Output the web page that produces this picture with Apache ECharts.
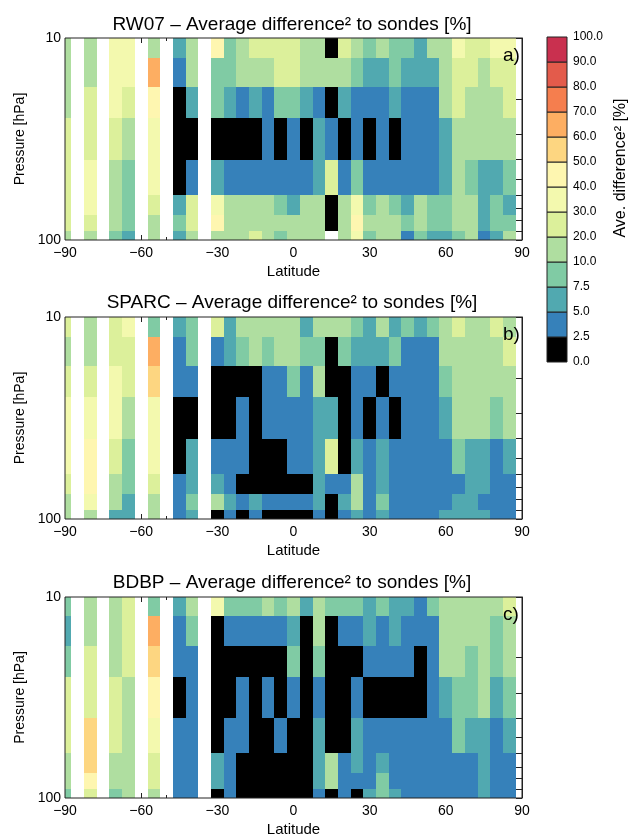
<!DOCTYPE html>
<html>
<head>
<meta charset="utf-8">
<title>Average difference to sondes</title>
<script src="https://cdn.jsdelivr.net/npm/echarts@6/dist/echarts.min.js"></script>
<style>
    html, body { margin: 0; padding: 0; background: #fff; }
    #main { width: 632px; height: 835px; }
</style>
</head>
<body>
<div id="main"></div>
<script>
// latitude bin centres (deg), no data at 90N
const lats = [-90, -85, -80, -75, -70, -65, -60, -55, -50, -45, -40, -35, -30, -25, -20, -15, -10, -5,
    0, 5, 10, 15, 20, 25, 30, 35, 40, 45, 50, 55, 60, 65, 70, 75, 80, 85];
// pressure levels (hPa), top to bottom
const levels = [10, 15, 20, 30, 50, 70, 80, 100];
const xTicks = [-90, -60, -30, 0, 30, 60, 90];

// colour classes of the bar
const classEdges = [0, 2.5, 5, 7.5, 10, 20, 30, 40, 50, 60, 70, 80, 90, 100];
const classColors = ['#000000', '#3681ba', '#51a9b0', '#80cba4', '#afdea0', '#dcf09b', '#f3f9ae',
    '#fef6b0', '#fdd681', '#fdae62', '#f57e4e', '#e35b4b', '#c9304f'];

// average difference^2 [%], one row per level, one value per latitude bin
const rw07 = [
    [15, null, 15, null, 35, 35, null, 15, null, 6, 15, null, 45, 9, 15, 25, 25, 25, 25, 15, 15, 1, 25, 15, 9, 15, 9, 9, 6, 15, 15, 35, 25, 25, 35, 35],
    [15, null, 15, null, 35, 35, null, 65, null, 4, 15, null, 9, 9, 15, 15, 15, 25, 25, 15, 15, 15, 15, 9, 6, 6, 9, 6, 6, 6, 15, 25, 25, 15, 25, 25],
    [15, null, 25, null, 35, 25, null, 45, null, 1, 6, null, 9, 6, 4, 6, 4, 9, 9, 6, 4, 1, 6, 4, 4, 4, 6, 4, 4, 4, 15, 25, 15, 15, 15, 25],
    [25, null, 25, null, 25, 15, null, 35, null, 1, 1, null, 1, 1, 1, 1, 4, 1, 4, 1, 6, 4, 1, 4, 1, 4, 1, 4, 4, 4, 6, 15, 15, 15, 15, 15],
    [25, null, 35, null, 15, 9, null, 35, null, 1, 4, null, 6, 4, 4, 4, 4, 4, 4, 4, 6, 25, 4, 9, 4, 4, 4, 4, 4, 4, 6, 15, 9, 6, 6, 9],
    [25, null, 35, null, 15, 9, null, 25, null, 6, 25, null, 35, 15, 15, 15, 15, 9, 6, 15, 15, 1, 15, 35, 9, 15, 9, 6, 15, 9, 9, 15, 15, 6, 9, 6],
    [25, null, 25, null, 15, 9, null, 15, null, 9, 25, null, 45, 15, 15, 15, 15, 15, 15, 15, 15, 1, 15, 45, 15, 15, 15, 9, 15, 9, 9, 15, 15, 6, 9, 9],
    [15, null, 15, null, 9, 6, null, 15, null, 6, 15, null, 15, 15, 15, 25, 15, 9, 15, 15, 15, null, 15, 35, 9, 15, 15, 4, 9, 6, 6, 9, 15, 4, 6, 15]
];
const sparc = [
    [25, null, 15, null, 25, 35, null, 9, null, 6, 9, null, 25, 6, 15, 15, 15, 15, 15, 6, 15, 15, 15, 9, 6, 15, 6, 9, 6, 9, 15, 25, 15, 15, 25, 15],
    [15, null, 15, null, 25, 25, null, 65, null, 4, 9, null, 4, 6, 9, 15, 9, 15, 15, 9, 9, 1, 9, 6, 6, 6, 9, 4, 4, 4, 15, 15, 15, 15, 15, 25],
    [25, null, 25, null, 35, 25, null, 55, null, 4, 4, null, 1, 1, 1, 1, 4, 4, 9, 4, 15, 1, 1, 4, 4, 1, 4, 4, 4, 4, 9, 15, 15, 15, 15, 15],
    [35, null, 35, null, 35, 15, null, 35, null, 1, 1, null, 1, 1, 4, 1, 4, 4, 4, 4, 6, 6, 1, 4, 1, 4, 1, 4, 4, 4, 6, 15, 15, 15, 9, 15],
    [35, null, 45, null, 25, 9, null, 35, null, 1, 6, null, 4, 4, 4, 1, 1, 1, 4, 4, 6, 25, 1, 6, 4, 6, 4, 4, 4, 4, 4, 9, 6, 6, 4, 6],
    [25, null, 45, null, 15, 9, null, 25, null, 4, 6, null, 6, 4, 1, 1, 1, 1, 1, 1, 6, 4, 4, 15, 4, 6, 4, 4, 4, 4, 4, 4, 6, 6, 4, 4],
    [15, null, 35, null, 15, 6, null, 15, null, 4, 9, null, 15, 6, 4, 6, 4, 4, 4, 4, 6, 1, 6, 15, 4, 9, 4, 4, 4, 4, 4, 6, 6, 4, 4, 4],
    [15, null, 15, null, 6, 6, null, 15, null, 4, 6, null, 1, 4, 1, 4, 1, 1, 1, 1, 4, 1, 4, 6, 4, 6, 4, 4, 4, 4, 6, 6, 6, 6, 4, 4]
];
const bdbp = [
    [9, null, 15, null, 15, 25, null, 9, null, 6, 15, null, 35, 9, 9, 9, 15, 9, 15, 6, 15, 9, 9, 9, 6, 9, 6, 6, 4, 9, 15, 15, 15, 15, 15, 25],
    [6, null, 15, null, 15, 25, null, 65, null, 4, 9, null, 1, 4, 4, 4, 4, 4, 6, 1, 15, 1, 4, 4, 6, 4, 6, 4, 4, 4, 15, 15, 15, 15, 9, 15],
    [9, null, 25, null, 15, 25, null, 55, null, 4, 4, null, 1, 1, 1, 1, 1, 1, 9, 1, 9, 1, 1, 1, 4, 4, 4, 4, 1, 4, 15, 15, 9, 15, 9, 15],
    [25, null, 25, null, 25, 15, null, 45, null, 1, 4, null, 1, 1, 4, 1, 4, 1, 4, 1, 4, 1, 1, 4, 1, 1, 1, 1, 1, 4, 6, 9, 9, 15, 6, 9],
    [25, null, 55, null, 25, 15, null, 35, null, 4, 4, null, 1, 4, 4, 1, 1, 4, 1, 1, 6, 1, 1, 6, 4, 4, 4, 4, 4, 4, 4, 9, 6, 6, 4, 6],
    [15, null, 55, null, 15, 15, null, 25, null, 4, 4, null, 6, 4, 1, 1, 1, 1, 1, 1, 6, 15, 4, 6, 4, 6, 4, 4, 4, 4, 4, 4, 4, 6, 4, 4],
    [15, null, 45, null, 15, 15, null, 25, null, 4, 4, null, 6, 4, 1, 1, 1, 1, 1, 1, 6, 15, 4, 4, 4, 9, 4, 4, 4, 4, 4, 4, 4, 6, 4, 4],
    [9, null, 25, null, 9, 15, null, 15, null, 4, 4, null, 1, 4, 1, 1, 1, 1, 1, 1, 4, 1, 4, 1, 6, 9, 6, 4, 4, 4, 4, 4, 4, 6, 4, 4]
];

const panels = [
    { name: 'RW07', tag: 'a)', values: rw07, top: 38, height: 202, titleTop: 10 },
    { name: 'SPARC', tag: 'b)', values: sparc, top: 317, height: 202, titleTop: 288 },
    { name: 'BDBP', tag: 'c)', values: bdbp, top: 597, height: 201, titleTop: 568 }
];

const FONT = "'Liberation Sans', Arial, sans-serif";
const plotLeft = 65, plotWidth = 457;

function colorOf(v) {
    for (let k = 0; k < classColors.length; k++) {
        if (v < classEdges[k + 1]) return classColors[k];
    }
    return classColors[classColors.length - 1];
}

// cells: [latLo, latHi, pTop, pBottom, value], edges half way between levels
function buildCells(rows) {
    let items = [];
    rows.forEach(function (row, r) {
        let pTop = r === 0 ? levels[0] : (levels[r - 1] + levels[r]) / 2;
        let pBot = r === levels.length - 1 ? levels[r] : (levels[r] + levels[r + 1]) / 2;
        row.forEach(function (v, c) {
            if (v === null) return;
            let lo = Math.max(-90, lats[c] - 2.5);
            let hi = Math.min(90, lats[c] + 2.5);
            items.push([lo, hi, pTop, pBot, v]);
        });
    });
    return items;
}

function renderCell(params, api) {
    let a = api.coord([api.value(0), api.value(2)]);
    let b = api.coord([api.value(1), api.value(3)]);
    let x0 = Math.round(Math.min(a[0], b[0])), x1 = Math.round(Math.max(a[0], b[0]));
    let y0 = Math.round(Math.min(a[1], b[1])), y1 = Math.round(Math.max(a[1], b[1]));
    return {
        type: 'rect',
        shape: { x: x0, y: y0, width: x1 - x0, height: y1 - y0 },
        style: { fill: colorOf(api.value(4)) }
    };
}

function renderClass(params, api) {
    let a = api.coord([0, api.value(0)]);
    let b = api.coord([1, api.value(1)]);
    return {
        type: 'rect',
        shape: { x: a[0], y: b[1], width: b[0] - a[0], height: a[1] - b[1] },
        style: { fill: classColors[params.dataIndex], stroke: '#222', lineWidth: 1 }
    };
}

let myChart = echarts.init(document.getElementById('main'), null, { renderer: 'canvas' });

let grids = [], xAxes = [], yAxes = [], series = [], titles = [];

panels.forEach(function (p, i) {
    grids.push({
        left: plotLeft, top: p.top, width: plotWidth, height: p.height,
        show: true, borderColor: '#222', borderWidth: 1, backgroundColor: 'transparent',
        z: 5, outerBoundsMode: 'none'
    });
    titles.push({
        text: p.name + ' \u2013 Average difference\u00b2 to sondes [%]',
        left: 287, top: p.titleTop, textAlign: 'center',
        textStyle: { fontFamily: FONT, fontSize: 19, fontWeight: 'normal', color: '#000' }
    });
    titles.push({
        text: p.tag, left: 498, top: p.top + 3,
        textStyle: { fontFamily: FONT, fontSize: 19, fontWeight: 'normal', color: '#000' }
    });
    // bottom axis: labels, ticks
    xAxes.push({
        gridIndex: i, type: 'value', min: -90, max: 90, interval: 30, position: 'bottom',
        name: 'Latitude', nameLocation: 'middle', nameGap: 24,
        nameTextStyle: { fontFamily: FONT, fontSize: 15, color: '#000' },
        axisLine: { show: false, onZero: false },
        axisTick: { show: true, inside: true, length: 5, lineStyle: { color: '#222' } },
        minorTick: { show: true, splitNumber: 3, length: 3, lineStyle: { color: '#222' } },
        splitLine: { show: false },
        axisLabel: {
            fontFamily: FONT, fontSize: 14, color: '#000', margin: 6,
            formatter: function (v) { return xTicks.indexOf(v) >= 0 ? String(v).replace('-', '\u2212') : ''; }
        }
    });
    // top axis: ticks only
    xAxes.push({
        gridIndex: i, type: 'value', min: -90, max: 90, interval: 30, position: 'top',
        axisLine: { show: false, onZero: false },
        axisTick: { show: true, inside: true, length: 5, lineStyle: { color: '#222' } },
        minorTick: { show: true, splitNumber: 3, length: 3, lineStyle: { color: '#222' } },
        splitLine: { show: false },
        axisLabel: { show: false }
    });
    yAxes.push({
        gridIndex: i, type: 'log', logBase: 10, min: 10, max: 100, inverse: true, position: 'left',
        name: 'Pressure [hPa]', nameLocation: 'middle', nameGap: 30,
        nameTextStyle: { fontFamily: FONT, fontSize: 14, color: '#000' },
        axisLine: { show: false, onZero: false },
        axisTick: { show: false },
        splitLine: { show: false },
        axisLabel: { fontFamily: FONT, fontSize: 14, color: '#000', margin: 4 }
    });
    // right axis: log minor ticks
    yAxes.push({
        gridIndex: i, type: 'log', logBase: 10, min: 10, max: 100, inverse: true, position: 'right',
        z: 6,
        axisLine: { show: true, onZero: false, lineStyle: { color: '#222', width: 1 } },
        axisTick: { show: true, inside: true, length: 6, lineStyle: { color: '#222' } },
        minorTick: { show: true, splitNumber: 9, length: 6, lineStyle: { color: '#222' } },
        splitLine: { show: false },
        minorSplitLine: { show: false },
        axisLabel: { show: false }
    });
    series.push({
        type: 'custom',
        xAxisIndex: 2 * i,
        yAxisIndex: 2 * i,
        renderItem: renderCell,
        encode: { x: [0, 1], y: [2, 3] },
        data: buildCells(p.values),
        z: 2
    });
});

// colour bar
grids.push({ left: 547, top: 37, width: 20, height: 325, outerBoundsMode: 'none' });
xAxes.push({ gridIndex: 3, type: 'value', min: 0, max: 1, show: false });
yAxes.push({
    gridIndex: 3, type: 'value', min: 0, max: classColors.length, interval: 1, position: 'right',
    axisLine: { show: false, onZero: false }, axisTick: { show: false }, splitLine: { show: false },
    axisLabel: {
        fontFamily: FONT, fontSize: 12, color: '#000', margin: 6,
        formatter: function (v) { return classEdges[v].toFixed(1); }
    }
});
series.push({
    type: 'custom',
    xAxisIndex: 6,
    yAxisIndex: 6,
    renderItem: renderClass,
    encode: { y: [0, 1] },
    data: classColors.map(function (c, k) { return [k, k + 1]; })
});

let option = {
    backgroundColor: '#fff',
    animation: false,
    title: titles,
    grid: grids,
    xAxis: xAxes,
    yAxis: yAxes,
    series: series,
    graphic: [{
        type: 'text',
        x: 621, y: 168,
        rotation: Math.PI / 2,
        style: {
            text: 'Ave. difference\u00b2 [%]',
            fontFamily: FONT, fontSize: 16, fill: '#000',
            align: 'center', verticalAlign: 'middle'
        }
    }]
};
myChart.setOption(option);
</script>
</body>
</html>
